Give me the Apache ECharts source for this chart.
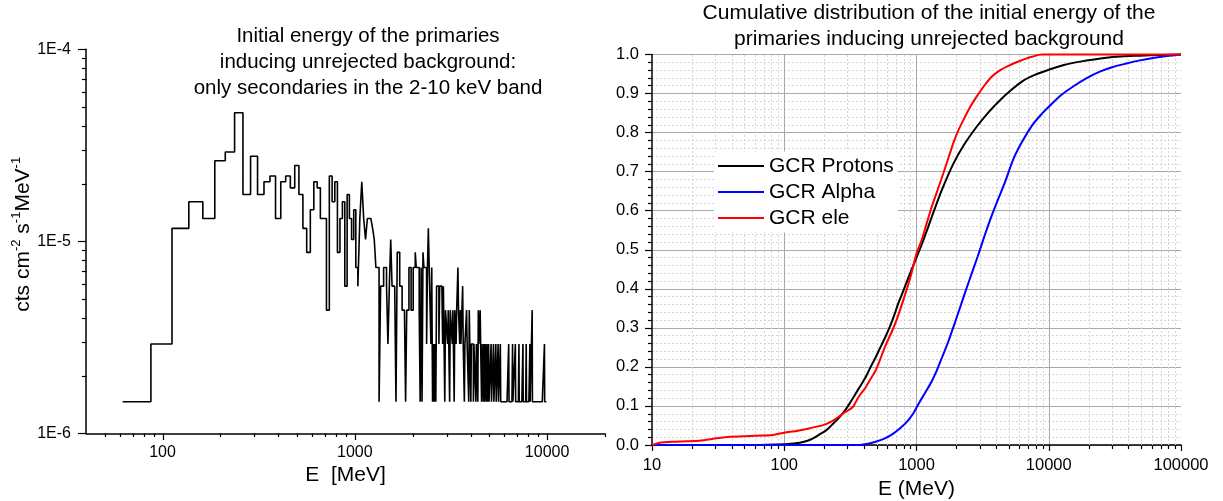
<!DOCTYPE html>
<html><head><meta charset="utf-8">
<script src="https://cdn.jsdelivr.net/npm/echarts@6/dist/echarts.min.js"></script>
<style>html,body{margin:0;padding:0;background:#fff}#c{width:1223px;height:501px}</style>
</head><body><div id="c"></div>
<script>
const FONT = '"Liberation Sans", Arial, Helvetica, sans-serif';

// ---------- Left panel: histogram of initial energies ----------
const HIST_BIN_START = 62;      // MeV, left edge of first bin
const HIST_BIN_WIDTH = 25;      // MeV
const HIST_COUNT_UNIT = 1.46e-6; // cts cm-2 s-1 MeV-1 for one count
const HIST_COUNTS = [
  1,2,8,11,9,18,20,32,12,19,
  12,14,15,9,14,15,13,17,12,8,
  6,10,14,13,9,9,3,15,11,14,
  6,9,11,4,12,9,7,10,5,4,
  9,14,9,7,9,9,9,8,7,5,
  5,1,4,4,5,5,4,2,4,7,
  4,4,4,1,6,6,4,4,3,3,
  3,1,3,3,5,5,3,3,5,5,
  6,5,5,5,3,1,5,1,6,5,
  5,5,2,5,8,5,5,2,5,1,
  2,1,2,1,4,4,4,2,4,4,
  4,4,2,4,4,1,3,3,3,2,
  3,3,1,3,3,3,2,3,3,1,
  3,3,2,3,3,5,3,3,2,3,
  2,2,2,4,2,2,1,2,2,2,
  3,2,2,2,1,3,2,2,1,2,
  2,2,2,1,2,2,2,2,1,2,
  2,2,1,3,2,2,2,3,2,2,
  1,2,2,2,1,2,2,1,2,2,
  2,1,2,2,1,1,2,1,1,1,
  1,1,2,1,1,1,1,1,2,1,
  1,1,1,1,2,1,1,1,1,1,
  2,1,1,1,1,1,2,1,1,1,
  1,1,1,1,1,1,1,1,1,1,
  1,1,1,1,1,1,1,1,1,1,
  2,1,1,1,1,1,1,1,1,1,
  1,1,2,1,1,1,1,1,1,1,
  1,2,1,1,1,1,1,1,1,1,
  1,1,1,2,1,1,1,1,1,1,
  1,1,1,1,1,1,1,2,1,1,
  1,1,1,1,1,1,1,1,1,2,
  1,1,1,1,1,1,1,1,1,1,
  1,1,1,2,1,1,1,1,1,1,
  1,1,3,1,1,1,1,1,1,1,
  1,1,1,1,1,1,1,1,1,1,
  1,1,1,1,1,1,1,1,1,1,
  1,1,1,1,1,1,1,1,1,1,
  1,1,1,1,1,1,1,1,1,1,
  1,1,1,1,1,2,1,1,1,1,
  1,1,1,1,1,1,1
];
const LEFT_X_MAJOR = [100, 1000, 10000];
const LEFT_X_MINOR = [50,60,70,80,90,200,300,400,500,600,700,800,900,2000,3000,4000,5000,6000,7000,8000,9000,20000];
const LEFT_Y_MINOR = [2e-6,3e-6,4e-6,5e-6,6e-6,7e-6,8e-6,9e-6,2e-5,3e-5,4e-5,5e-5,6e-5,7e-5,8e-5,9e-5];

// ---------- Right panel: cumulative distributions ----------
const PROTON_E = [10,30,60,100,118,131,150,165,185,208,235,263,290,313,340,373,410,444,485,528,580,629,680,727,800,900,1000,1125,1230,1340,1550,1897,2300,2850,3500,4280,5200,6420,8000,10000,13000,18200,24000,32400,45000,57500,75000,100000];
const PROTON_F = [0,0,0,0.002,0.004,0.006,0.011,0.017,0.027,0.038,0.055,0.072,0.09,0.107,0.127,0.149,0.172,0.196,0.221,0.247,0.276,0.303,0.333,0.362,0.397,0.442,0.48,0.524,0.56,0.595,0.652,0.72,0.77,0.815,0.852,0.883,0.909,0.933,0.949,0.961,0.973,0.983,0.989,0.994,0.997,0.998,0.999,1.0];
const ALPHA_E = [10,100,300,375,430,492,560,646,740,849,950,1043,1150,1280,1420,1567,1740,1923,2130,2360,2620,2897,3250,3674,4150,4667,5400,6300,7510,8700,10000,12300,15300,19500,24300,30500,38600,49000,61400,78000,100000];
const ALPHA_F = [0,0,0,0,0.003,0.0085,0.015,0.026,0.041,0.06,0.082,0.107,0.131,0.158,0.19,0.226,0.265,0.307,0.351,0.396,0.44,0.482,0.533,0.584,0.63,0.673,0.732,0.777,0.819,0.845,0.866,0.895,0.918,0.94,0.956,0.968,0.977,0.985,0.991,0.996,1.0];
const ELE_E = [10,11.4,14.4,18,22.9,30.7,38.7,54.8,82.4,100,124,156,197,227,255,279,305,332,350,373,410,444,490,528,560,593,650,706,795,900,1000,1094,1200,1304,1450,1596,1750,1897,2060,2260,2550,2850,3250,3700,4300,5090,5900,6800,7600,8340,9000,100000];
const ELE_F = [0,0.006,0.0085,0.0095,0.011,0.017,0.021,0.023,0.0256,0.0315,0.036,0.043,0.051,0.06,0.071,0.081,0.089,0.098,0.112,0.128,0.146,0.166,0.19,0.217,0.24,0.26,0.29,0.32,0.371,0.43,0.49,0.525,0.57,0.61,0.655,0.696,0.737,0.773,0.804,0.832,0.866,0.892,0.92,0.943,0.96,0.973,0.982,0.99,0.995,0.999,1.0,1.0];
const RIGHT_X_MINOR = [20,30,40,50,60,70,80,90,200,300,400,500,600,700,800,900,2000,3000,4000,5000,6000,7000,8000,9000,20000,30000,40000,50000,60000,70000,80000,90000];

// ---------- build ----------
const histData = HIST_COUNTS.map((n, k) => [HIST_BIN_START + HIST_BIN_WIDTH * k, n * HIST_COUNT_UNIT]);
histData.push([HIST_BIN_START + HIST_BIN_WIDTH * HIST_COUNTS.length, HIST_COUNTS[HIST_COUNTS.length - 1] * HIST_COUNT_UNIT]);

function pairs(xs, ys) { return xs.map((x, i) => [x, ys[i]]); }

function tickSeries(xi, yi, data, kind, len) {
  return {
    type: 'custom', xAxisIndex: xi, yAxisIndex: yi, silent: true, clip: false, z: 6,
    data: data,
    renderItem: function (params, api) {
      const p = api.coord([api.value(0), api.value(1)]);
      const x = Math.round(p[0]) + 0.5, y = Math.round(p[1]) + 0.5;
      const shape = kind === 'x' ? {x1: x, y1: y, x2: x, y2: y + len} : {x1: x, y1: y, x2: x - len, y2: y};
      return {type: 'line', shape: shape, style: {stroke: '#000', lineWidth: 1.2}};
    }
  };
}
function gridLineSeries(xi, yi, values) {
  return {
    type: 'custom', xAxisIndex: xi, yAxisIndex: yi, silent: true, clip: false, z: 1,
    data: values.map(v => [v, 0]),
    renderItem: function (params, api) {
      const a = api.coord([api.value(0), 0]);
      const b = api.coord([api.value(0), 1]);
      const x = Math.round(a[0]) + 0.5;
      return {type: 'line', shape: {x1: x, y1: a[1], x2: x, y2: b[1]},
        style: {stroke: '#d6d6d6', lineWidth: 1, lineDash: [2, 2]}};
    }
  };
}
function isDecade(v) { const l = Math.log10(v); return Math.abs(l - Math.round(l)) < 1e-6; }

const axisLineStyle = {color: '#000', width: 1.5};
const option = {
  animation: false,
  backgroundColor: '#fff',
  textStyle: {fontFamily: FONT},
  graphic: [
    {type: 'text', x: 368, y: 23, silent: true,
      style: {text: 'Initial energy of the primaries\ninducing unrejected background:\nonly secondaries in the 2-10 keV band',
        font: '20.5px ' + FONT, fill: '#000', align: 'center', textAlign: 'center', verticalAlign: 'top', textVerticalAlign: 'top', lineHeight: 26}},
    {type: 'text', x: 929, y: 0, silent: true,
      style: {text: 'Cumulative distribution of the initial energy of the\nprimaries inducing unrejected background',
        font: '21px ' + FONT, fill: '#000', align: 'center', textAlign: 'center', verticalAlign: 'top', textVerticalAlign: 'top', lineHeight: 26}}
  ],
  grid: [
    {left: 86, top: 49.3, width: 519, height: 384, outerBoundsMode: 'none', containLabel: false},
    {left: 652, top: 54.5, width: 529, height: 390.5, outerBoundsMode: 'none', containLabel: false}
  ],
  legend: {
    data: ['GCR Protons', 'GCR Alpha', 'GCR ele'],
    orient: 'vertical', left: 714, top: 151.5,
    itemWidth: 46, itemHeight: 2, itemGap: 5, padding: [4, 4, 4, 3],
    backgroundColor: '#fff', selectedMode: false,
    textStyle: {fontSize: 21, lineHeight: 21, color: '#000', fontFamily: FONT}
  },
  xAxis: [
    {type: 'log', gridIndex: 0, min: 40, max: 20000,
      axisLine: {show: true, onZero: false, lineStyle: axisLineStyle},
      axisTick: {show: false}, splitLine: {show: false},
      axisLabel: {fontSize: 16, color: '#000', margin: 11, fontFamily: FONT,
        formatter: v => isDecade(v) ? String(Math.round(v)) : ''},
      name: 'E  [MeV]', nameLocation: 'middle', nameGap: 30,
      nameTextStyle: {fontSize: 21, color: '#000', fontFamily: FONT}},
    {type: 'log', gridIndex: 1, min: 10, max: 100000,
      axisLine: {show: true, onZero: false, lineStyle: axisLineStyle},
      axisTick: {show: true, length: 6, lineStyle: {color: '#000', width: 1.2}},
      splitLine: {show: true, showMinLine: false, showMaxLine: false, lineStyle: {color: '#a8a8a8', width: 1}},
      axisLabel: {fontSize: 16.5, color: '#000', margin: 12, fontFamily: FONT,
        formatter: v => String(Math.round(v))},
      name: 'E (MeV)', nameLocation: 'middle', nameGap: 32,
      nameTextStyle: {fontSize: 21, color: '#000', fontFamily: FONT}}
  ],
  yAxis: [
    {type: 'log', gridIndex: 0, min: 1e-6, max: 1e-4,
      axisLine: {show: true, onZero: false, lineStyle: axisLineStyle},
      axisTick: {show: true, length: 8, lineStyle: {color: '#000', width: 1.2}},
      splitLine: {show: false},
      axisLabel: {fontSize: 16, color: '#000', margin: 15, fontFamily: FONT,
        formatter: v => '1E' + Math.round(Math.log10(v))},
      name: '{a|cts cm}{s|-2}{a| s}{s|-1}{a|MeV}{s|-1}', nameLocation: 'middle', nameGap: 47, nameRotate: 90,
      nameTextStyle: {color: '#000', fontFamily: FONT, padding: [0, 0, 0, 14], rich: {
        a: {fontSize: 21, lineHeight: 26, color: '#000', fontFamily: FONT},
        s: {fontSize: 13, lineHeight: 13, verticalAlign: 'top', color: '#000', fontFamily: FONT}}}},
    {type: 'value', gridIndex: 1, min: 0, max: 1, interval: 0.1,
      axisLine: {show: true, onZero: false, lineStyle: axisLineStyle},
      axisTick: {show: true, length: 7, lineStyle: {color: '#000', width: 1.2}},
      minorTick: {show: true, splitNumber: 5, length: 4, lineStyle: {color: '#000', width: 1.2}},
      splitLine: {show: true, lineStyle: {color: '#a8a8a8', width: 1}},
      minorSplitLine: {show: true, lineStyle: {color: '#d6d6d6', width: 1, type: [2, 2]}},
      axisLabel: {fontSize: 16.5, color: '#000', margin: 13, fontFamily: FONT,
        formatter: v => v.toFixed(1)}}
  ],
  series: [
    {type: 'line', name: 'hist', xAxisIndex: 0, yAxisIndex: 0, step: 'end', symbol: 'none',
      data: histData, lineStyle: {color: '#000', width: 1.6}, z: 3, silent: true},
    tickSeries(0, 0, LEFT_X_MAJOR.map(v => [v, 1e-6]), 'x', 6.5),
    tickSeries(0, 0, LEFT_X_MINOR.map(v => [v, 1e-6]), 'x', 3.5),
    tickSeries(0, 0, LEFT_Y_MINOR.map(v => [40, v]), 'y', 4.5),
    tickSeries(1, 1, RIGHT_X_MINOR.map(v => [v, 0]), 'x', 3.5),
    gridLineSeries(1, 1, RIGHT_X_MINOR),
    {type: 'line', name: 'GCR Protons', xAxisIndex: 1, yAxisIndex: 1, symbol: 'none', showSymbol: false,
      smooth: 0.3, clip: false, z: 3,
      data: pairs(PROTON_E, PROTON_F), lineStyle: {color: '#000', width: 2}, itemStyle: {color: '#000'}},
    {type: 'line', name: 'GCR Alpha', xAxisIndex: 1, yAxisIndex: 1, symbol: 'none', showSymbol: false,
      smooth: 0.3, clip: false, z: 3,
      data: pairs(ALPHA_E, ALPHA_F), lineStyle: {color: '#0000ff', width: 2}, itemStyle: {color: '#0000ff'}},
    {type: 'line', name: 'GCR ele', xAxisIndex: 1, yAxisIndex: 1, symbol: 'none', showSymbol: false,
      smooth: 0.2, clip: false, z: 3,
      data: pairs(ELE_E, ELE_F), lineStyle: {color: '#ff0000', width: 2}, itemStyle: {color: '#ff0000'}}
  ]
};
const chart = echarts.init(document.getElementById('c'), null, {renderer: 'canvas'});
chart.setOption(option);
</script>
</body></html>
